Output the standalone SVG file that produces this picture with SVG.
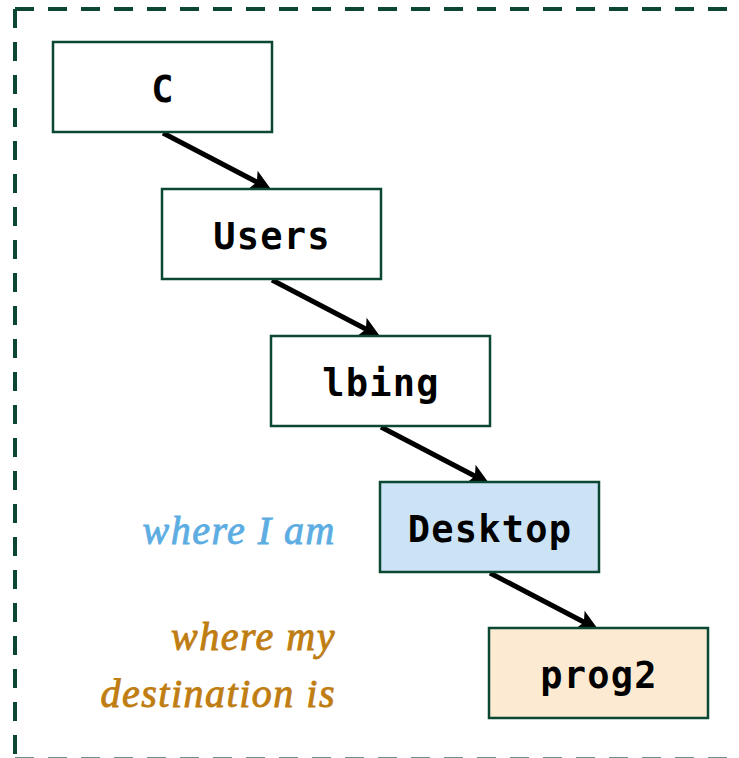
<svg xmlns="http://www.w3.org/2000/svg" width="739" height="758" viewBox="0 0 739 758">
<style>
.frame{fill:none;stroke:#0b4733;stroke-width:4;stroke-dasharray:19 14}
.box{stroke:#0b4733;stroke-width:2.5}
.lbl{font-family:"DejaVu Sans Mono",monospace;font-weight:bold;font-size:37px;letter-spacing:1.2px;text-anchor:middle;fill:#000}
.note{font-family:"Liberation Serif",serif;font-style:italic;font-size:40px;letter-spacing:1.5px;text-anchor:end;stroke-width:0.9}
.conn{stroke:#000;stroke-width:5;fill:none}
</style>
<defs>
<marker id="ah" markerUnits="userSpaceOnUse" markerWidth="30" markerHeight="30" refX="0" refY="0" viewBox="-14 -11 26 22" orient="auto">
<path d="M9,0 L-9,-9 L-5,0 L-9,9 Z" fill="#000"/>
</marker>
</defs>
<rect width="739" height="758" fill="#fff"/>
<g id="frame">
<line class="frame" x1="15" y1="9" x2="739" y2="9"/>
<line class="frame" x1="15" y1="9" x2="15" y2="759"/>
<line class="frame" x1="15" y1="759" x2="739" y2="759" stroke-opacity="0.6"/>
</g>
<g id="connectors">
<line class="conn" x1="163" y1="133" x2="262" y2="184.8" marker-end="url(#ah)"/>
<line class="conn" x1="272" y1="280" x2="371" y2="331.8" marker-end="url(#ah)"/>
<line class="conn" x1="381" y1="427" x2="480" y2="478.8" marker-end="url(#ah)"/>
<line class="conn" x1="490" y1="573" x2="589" y2="624.8" marker-end="url(#ah)"/>
</g>
<g id="node-C">
<rect class="box" x="53" y="42" width="219" height="90" fill="#fff"/>
<text class="lbl" x="163" y="102">C</text>
</g>
<g id="node-Users">
<rect class="box" x="162" y="189" width="219" height="90" fill="#fff"/>
<text class="lbl" x="272" y="249">Users</text>
</g>
<g id="node-lbing">
<rect class="box" x="271" y="336" width="219" height="90" fill="#fff"/>
<text class="lbl" x="381" y="396">lbing</text>
</g>
<g id="node-Desktop">
<rect class="box" x="380" y="482" width="219" height="90" fill="#cce3f5"/>
<text class="lbl" x="490" y="542">Desktop</text>
</g>
<g id="node-prog2">
<rect class="box" x="489" y="628" width="219" height="90" fill="#fcebd2"/>
<text class="lbl" x="599" y="688">prog2</text>
</g>
<g id="notes">
<text class="note" x="336" y="544" fill="#5dade2" stroke="#5dade2">where I am</text>
<text class="note" x="336" y="650" fill="#bf7d12" stroke="#bf7d12">where my</text>
<text class="note" x="336" y="707" fill="#bf7d12" stroke="#bf7d12">destination is</text>
</g>
</svg>
